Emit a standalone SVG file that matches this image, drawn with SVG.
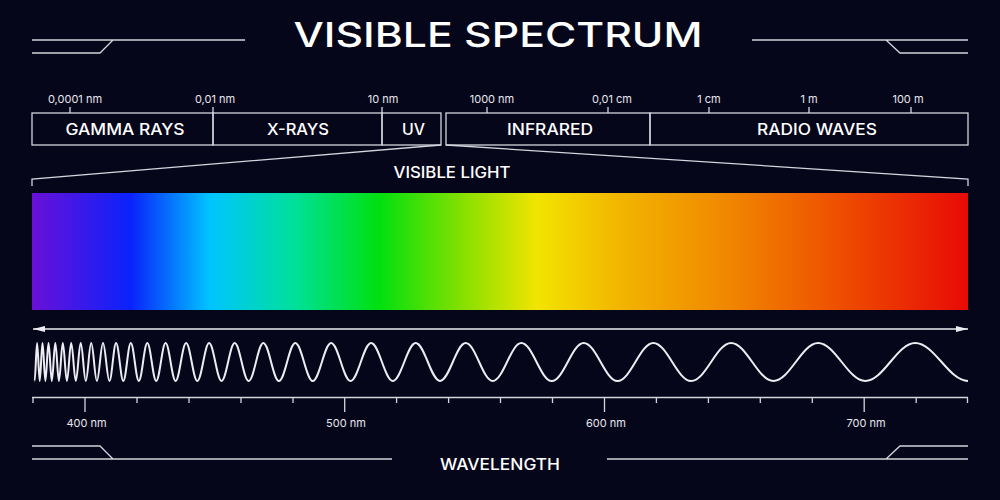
<svg xmlns="http://www.w3.org/2000/svg" width="1000" height="500" viewBox="0 0 1000 500">
  <style>
    .ln { stroke: #d4d4dc; stroke-width: 1.3; fill: none; }
    .t { fill: #ffffff; font-family: Inter, "Liberation Sans", sans-serif; font-weight: 500; text-anchor: middle; }
    .lbl { font-size: 15.5px; }
    .sm { fill: #e6e6ee; font-family: Inter, "Liberation Sans", sans-serif; font-weight: 400; font-size: 11px; text-anchor: middle; }
    .wave { stroke: #ececf2; stroke-width: 2; fill: none; }
  </style>
  <defs>
    <linearGradient id="spec" x1="0" y1="0" x2="1" y2="0">
      <stop offset="0" stop-color="#6a10d8"/>
      <stop offset="0.105" stop-color="#0a22fa"/>
      <stop offset="0.19" stop-color="#00c4ff"/>
      <stop offset="0.28" stop-color="#00e09a"/>
      <stop offset="0.37" stop-color="#00e010"/>
      <stop offset="0.46" stop-color="#86e000"/>
      <stop offset="0.54" stop-color="#f2e400"/>
      <stop offset="0.63" stop-color="#f2b400"/>
      <stop offset="0.75" stop-color="#f08400"/>
      <stop offset="0.86" stop-color="#ee5000"/>
      <stop offset="1" stop-color="#e80a06"/>
    </linearGradient>
    <marker id="ah" viewBox="0 0 12 6" refX="12" refY="3" markerWidth="12" markerHeight="6" markerUnits="userSpaceOnUse" orient="auto-start-reverse">
      <path d="M0,0 L12,3 L0,6 Z" fill="#ececf2"/>
    </marker>
  </defs>

  <rect x="0" y="0" width="1000" height="500" fill="#06061a"/>

  <g id="title">
    <text class="t" x="498" y="47" font-size="34" textLength="409" lengthAdjust="spacingAndGlyphs">VISIBLE SPECTRUM</text>
  </g>

  <g id="deco-top-left">
    <path class="ln" d="M32,40 H245 M32,53 H100 L113,40"/>
  </g>
  <g id="deco-top-right">
    <path class="ln" d="M752,40 H968 M886,40 L900,53 H968"/>
  </g>

  <g id="scale-top">
    <path class="ln" d="M70,107 V113 M213,107 V113 M382,107 V113 M487,107 V113 M608,107 V113 M709,107 V113 M809,107 V113 M911,107 V113"/>
    <text class="sm" x="75" y="103">0,0001 nm</text>
    <text class="sm" x="215" y="103">0,01 nm</text>
    <text class="sm" x="383" y="103">10 nm</text>
    <text class="sm" x="492" y="103">1000 nm</text>
    <text class="sm" x="612" y="103">0,01 cm</text>
    <text class="sm" x="709" y="103">1 cm</text>
    <text class="sm" x="809" y="103">1 m</text>
    <text class="sm" x="908" y="103">100 m</text>
  </g>

  <g id="band-gamma">
    <rect class="ln" x="32" y="113" width="181" height="32"/>
    <text class="t lbl" x="125" y="135" textLength="119" lengthAdjust="spacingAndGlyphs">GAMMA RAYS</text>
  </g>
  <g id="band-xrays">
    <rect class="ln" x="213" y="113" width="169" height="32"/>
    <text class="t lbl" x="298" y="135" textLength="62" lengthAdjust="spacingAndGlyphs">X-RAYS</text>
  </g>
  <g id="band-uv">
    <rect class="ln" x="382" y="113" width="59" height="32"/>
    <text class="t lbl" x="413.5" y="135" textLength="23" lengthAdjust="spacingAndGlyphs">UV</text>
  </g>
  <g id="band-infrared">
    <rect class="ln" x="446" y="113" width="204" height="32"/>
    <text class="t lbl" x="550" y="135" textLength="86" lengthAdjust="spacingAndGlyphs">INFRARED</text>
  </g>
  <g id="band-radio">
    <rect class="ln" x="650" y="113" width="318" height="32"/>
    <text class="t lbl" x="817" y="135" textLength="120" lengthAdjust="spacingAndGlyphs">RADIO WAVES</text>
  </g>

  <g id="connectors">
    <path class="ln" d="M441,145 L32,179 V186"/>
    <path class="ln" d="M446,145 L968,179 V186"/>
  </g>

  <g id="visible-light">
    <text class="t lbl" x="452" y="178" textLength="117" lengthAdjust="spacingAndGlyphs">VISIBLE LIGHT</text>
    <rect x="32" y="193" width="936" height="117" fill="url(#spec)"/>
  </g>

  <g id="arrow">
    <line x1="33" y1="329" x2="968" y2="329" stroke="#ececf2" stroke-width="1.4" marker-start="url(#ah)" marker-end="url(#ah)"/>
  </g>

  <g id="wave">
    <path class="wave" d="M34.6,381
C35.5,381 36.2,343 37.1,343
C38.0,343 38.8,381 39.7,381
C40.7,381 41.5,343 42.5,343
C43.6,343 44.3,381 45.4,381
C46.5,381 47.4,343 48.5,343
C49.7,343 50.6,381 51.8,381
C53.1,381 54.0,343 55.3,343
C56.6,343 57.6,381 58.9,381
C60.3,381 61.4,343 62.8,343
C64.3,343 65.4,381 66.9,381
C68.5,381 69.6,343 71.2,343
C72.9,343 74.1,381 75.8,381
C77.6,381 78.9,343 80.7,343
C82.6,343 83.9,381 85.8,381
C87.8,381 89.2,343 91.2,343
C93.3,343 94.8,381 96.9,381
C99.1,381 100.8,343 103,343
C105.3,343 107.1,381 109.4,381
C111.8,381 113.7,343 116.1,343
C118.7,343 120.7,381 123.3,381
C126,381 128.1,343 130.8,343
C133.7,343 135.9,381 138.8,381
C141.9,381 144.2,343 147.3,343
C150.5,343 153,381 156.2,381
C159.6,381 162.2,343 165.6,343
C169.2,343 172,381 175.6,381
C179.4,381 182.3,343 186.1,343
C190.2,343 193.2,381 197.3,381
C201.6,381 204.8,343 209.1,343
C213.6,343 217,381 221.5,381
C226.3,381 229.9,343 234.7,343
C239.8,343 243.5,381 248.6,381
C254,381 258,343 263.3,343
C269,343 273.2,381 278.9,381
C284.9,381 289.3,343 295.3,343
C301.6,343 306.4,381 312.7,381
C319.4,381 324.4,343 331.1,343
C338.2,343 343.4,381 350.5,381
C358,381 363.6,343 371.1,343
C379,343 384.9,381 392.8,381
C401.1,381 407.4,343 415.7,343
C424.5,343 431.2,381 440,381
C449.3,381 456.3,343 465.6,343
C475.5,343 482.8,381 492.7,381
C503.1,381 511,343 521.4,343
C532.4,343 540.7,381 551.7,381
C563.4,381 572.1,343 583.7,343
C596,343 605.2,381 617.5,381
C630.5,381 640.3,343 653.3,343
C667.1,343 677.3,381 691.1,381
C705.7,381 716.5,343 731.1,343
C746.5,343 758,381 773.4,381
C789.7,381 801.8,343 818.1,343
C835.3,343 848.1,381 865.3,381
C883.5,381 897,343 915.2,343
C934.4,343 948.8,381 968,381"/>
  </g>

  <g id="scale-bottom">
    <path class="ln" d="M32,397.5 H968"/>
    <path class="ln" d="M33,397.5 V403 M137,397.5 V403 M189,397.5 V403 M241,397.5 V403 M293,397.5 V403 M396.6,397.5 V403 M448.6,397.5 V403 M500.5,397.5 V403 M552.5,397.5 V403 M656.4,397.5 V403 M708.4,397.5 V403 M760.3,397.5 V403 M812.3,397.5 V403 M916.2,397.5 V403 M967.5,397.5 V403"/>
    <path class="ln" d="M85,397.5 V412 M344.7,397.5 V412 M604.5,397.5 V412 M864.2,397.5 V412"/>
    <text class="sm" x="86.5" y="427">400 nm</text>
    <text class="sm" x="346" y="427">500 nm</text>
    <text class="sm" x="606" y="427">600 nm</text>
    <text class="sm" x="866" y="427">700 nm</text>
  </g>

  <g id="deco-bottom-left">
    <path class="ln" d="M32,446 H100 L113,459 M32,459 H392"/>
  </g>
  <g id="deco-bottom-right">
    <path class="ln" d="M607,459 H968 M886,459 L900,446 H968"/>
  </g>

  <g id="wavelength">
    <text class="t lbl" x="500" y="469.5" textLength="120" lengthAdjust="spacingAndGlyphs">WAVELENGTH</text>
  </g>
</svg>
